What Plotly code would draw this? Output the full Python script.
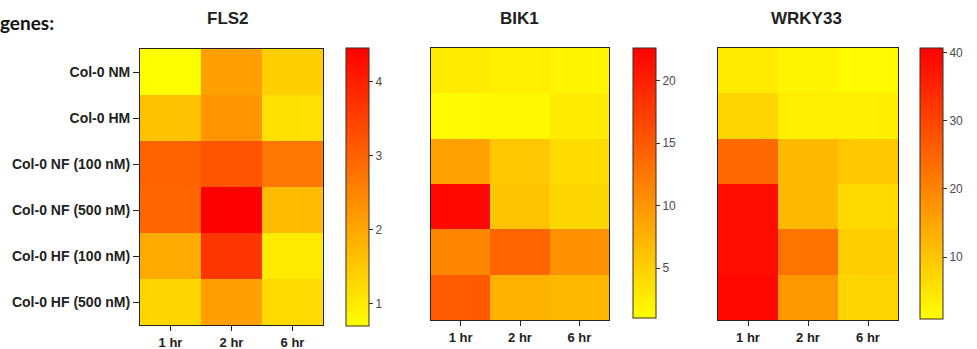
import plotly.graph_objects as go

W, H = 977, 349

conditions = ["Col-0 NM", "Col-0 HM", "Col-0 NF (100 nM)", "Col-0 NF (500 nM)",
              "Col-0 HF (100 nM)", "Col-0 HF (500 nM)"]
times = ["1 hr", "2 hr", "6 hr"]

# rows = conditions, columns = times
fls2 = [[0.72, 2.10, 1.40],
        [1.60, 2.25, 1.15],
        [3.00, 3.20, 2.70],
        [2.95, 4.45, 1.70],
        [1.95, 3.65, 1.00],
        [1.30, 2.10, 1.25]]
bik1 = [[2.7, 2.3, 1.9],
        [1.4, 1.6, 2.7],
        [9.0, 5.7, 4.0],
        [21.8, 6.1, 4.4],
        [11.2, 14.0, 10.3],
        [15.0, 7.4, 7.0]]
wrky33 = [[4.0, 2.5, 1.7],
          [7.3, 3.2, 3.2],
          [24.3, 11.8, 9.6],
          [38.5, 11.8, 6.8],
          [38.5, 22.8, 8.7],
          [39.5, 17.0, 7.3]]

genes = ["FLS2", "BIK1", "WRKY33"]
z_ranges = [(0.70, 4.45), (1.0, 22.6), (0.9, 40.7)]
cbar_ticks = [[1, 2, 3, 4], [5, 10, 15, 20], [10, 20, 30, 40]]

# pixel layout: (x0, x1, ytop, ybottom) for heatmaps and colorbars
plot_px = [(140, 323, 49, 325), (431, 609, 48, 320), (718, 898, 48, 320)]
cbar_px = [(346, 369, 48, 326), (633, 656, 48, 318), (920, 943, 48, 319)]
title_x = [228, 519, 806]

scale = [[0, "#ffff00"], [1, "#ff0000"]]

fig = go.Figure()
data = [fls2, bik1, wrky33]
for i in range(3):
    (x0, x1, yt, yb) = plot_px[i]
    (cx0, cx1, cyt, cyb) = cbar_px[i]
    sfx = "" if i == 0 else str(i + 1)
    fig.add_trace(go.Heatmap(
        z=data[i], x=times, y=conditions,
        zmin=z_ranges[i][0], zmax=z_ranges[i][1],
        colorscale=scale,
        xaxis="x" + sfx, yaxis="y" + sfx,
        hoverinfo="skip",
        colorbar=dict(
            x=cx0 / W, xanchor="left", xpad=0,
            y=1 - cyt / H, yanchor="top", ypad=0,
            len=(cyb - cyt) / H, lenmode="fraction",
            thickness=cx1 - cx0, thicknessmode="pixels",
            outlinecolor="#3a2a20", outlinewidth=1,
            tickvals=cbar_ticks[i], ticks="outside", ticklen=4,
            tickcolor="#3a2a20",
            tickfont=dict(family="Liberation Sans, Arial", size=12, color="#4a4a4a"),
        ),
    ))
    fig.layout["xaxis" + sfx] = dict(
        domain=[x0 / W, x1 / W], anchor="y" + sfx,
        showline=True, mirror=True, linecolor="#222222", linewidth=1,
        ticks="outside", ticklen=5, tickcolor="#222222", showgrid=False,
        zeroline=False,
        tickfont=dict(family="Liberation Sans, Arial", size=13, color="#222222", weight="bold"),
        fixedrange=True,
    )
    fig.layout["yaxis" + sfx] = dict(
        domain=[1 - yb / H, 1 - yt / H], anchor="x" + sfx,
        autorange="reversed",
        showline=True, mirror=True, linecolor="#222222", linewidth=1,
        ticks="outside" if i == 0 else "", ticklen=6, tickcolor="#222222",
        showticklabels=(i == 0), showgrid=False, zeroline=False,
        tickfont=dict(family="Liberation Sans, Arial", size=14, color="#222222", weight="bold"),
        fixedrange=True,
    )
    fig.add_annotation(
        text=genes[i], x=title_x[i] / W, y=1 - 18 / H, xref="paper", yref="paper",
        xanchor="center", yanchor="middle", showarrow=False,
        font=dict(family="Liberation Sans, Arial", size=17, color="#222222", weight="bold"),
    )

fig.add_annotation(
    text="genes:", x=0, y=1 - 23 / H, xref="paper", yref="paper",
    xanchor="left", yanchor="middle", showarrow=False, xshift=-2,
    font=dict(family="Lato, Open Sans", size=19, color="#111111", weight="bold"),
)

fig.update_layout(
    template="none",
    font=dict(family="Liberation Sans, Arial", color="#4a4a4a"),
    width=W, height=H,
    margin=dict(l=0, r=0, t=0, b=0),
    paper_bgcolor="white", plot_bgcolor="white",
    showlegend=False,
)

fig.write_html("out.html")
